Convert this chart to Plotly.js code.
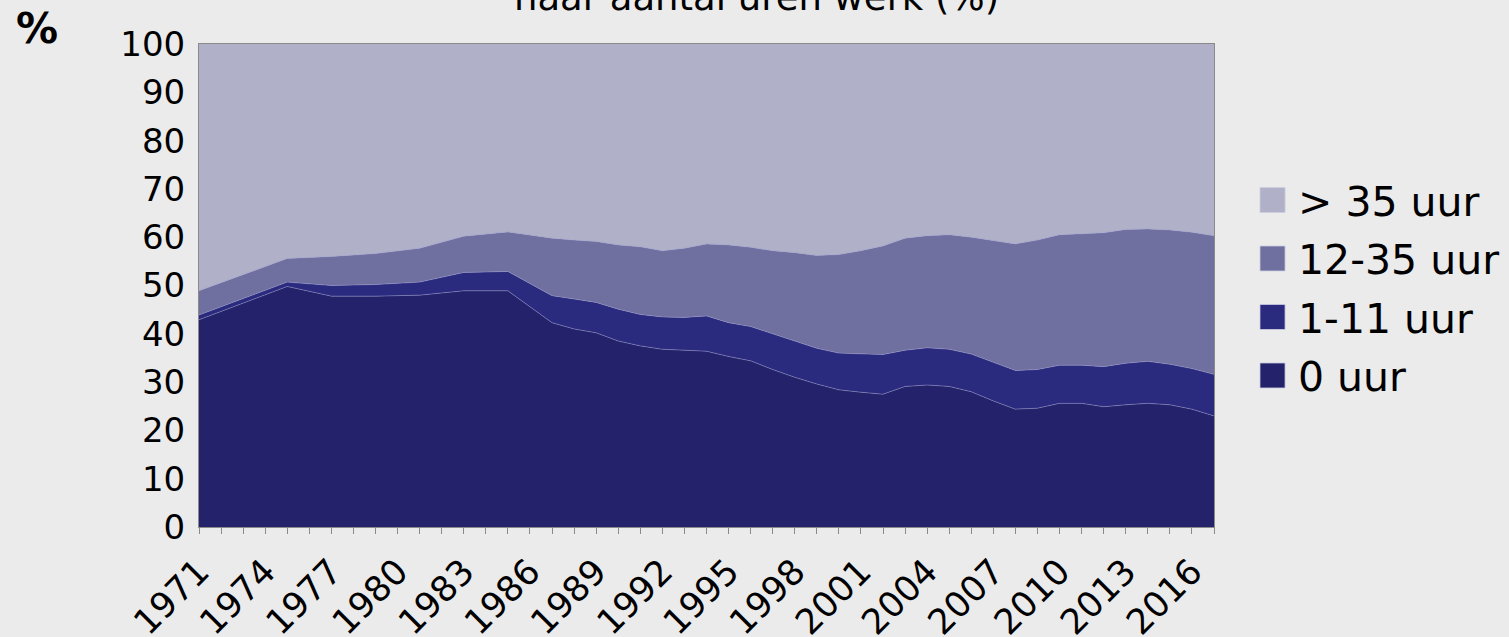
<!DOCTYPE html>
<html>
<head>
<meta charset="utf-8">
<script src="https://cdn.plot.ly/plotly-3.0.1.min.js"></script>
<style>
  html, body { margin: 0; padding: 0; background: #ebebeb; }
  #chart { width: 1509px; height: 637px; }
</style>
</head>
<body>
<div id="chart"></div>
<script>
// Years with observations
const years = [1971, 1975, 1977, 1979, 1981, 1983, 1985,
  1987, 1988, 1989, 1990, 1991, 1992, 1993, 1994, 1995, 1996, 1997, 1998, 1999, 2000,
  2001, 2002, 2003, 2004, 2005, 2006, 2007, 2008, 2009, 2010,
  2011, 2012, 2013, 2014, 2015, 2016, 2017];

// Shares (%) per category
const uur0 = [42.9, 49.8, 47.8, 47.8, 48.0, 48.9, 48.9,
  42.3, 41.0, 40.2, 38.5, 37.5, 36.8, 36.6, 36.4, 35.3, 34.4, 32.6, 31.0, 29.6, 28.4,
  27.9, 27.5, 29.1, 29.4, 29.1, 28.0, 26.1, 24.4, 24.6, 25.6,
  25.6, 24.9, 25.3, 25.6, 25.3, 24.4, 23.0];
const uur1_11 = [1.0, 0.9, 2.2, 2.4, 2.7, 3.8, 4.0,
  5.6, 6.2, 6.3, 6.6, 6.5, 6.7, 6.8, 7.3, 7.0, 7.1, 7.4, 7.4, 7.4, 7.6,
  8.0, 8.2, 7.5, 7.7, 7.7, 7.8, 8.0, 8.0, 8.0, 7.9,
  7.9, 8.3, 8.6, 8.7, 8.4, 8.4, 8.6];
const uur12_35 = [5.0, 4.9, 6.0, 6.4, 7.0, 7.5, 8.2,
  11.9, 12.2, 12.6, 13.3, 14.0, 13.7, 14.3, 14.9, 16.1, 16.4, 17.2, 18.4, 19.2, 20.4,
  21.3, 22.5, 23.2, 23.2, 23.7, 24.2, 25.2, 26.2, 26.8, 27.0,
  27.2, 27.7, 27.7, 27.4, 27.8, 28.2, 28.7];
const uur35plus = [51.1, 44.4, 44.0, 43.4, 42.3, 39.8, 38.9,
  40.2, 40.6, 40.9, 41.6, 42.0, 42.8, 42.3, 41.4, 41.6, 42.1, 42.8, 43.2, 43.8, 43.6,
  42.7, 41.8, 40.2, 39.7, 39.5, 40.0, 40.7, 41.4, 40.6, 39.5,
  39.3, 39.1, 38.4, 38.3, 38.5, 39.0, 39.7];

const seriesNames = ['0 uur', '1-11 uur', '12-35 uur', '> 35 uur'];
const seriesColors = ['#23226a', '#2a2a7e', '#6f70a0', '#b0b1c8'];
const seriesValues = [uur0, uur1_11, uur12_35, uur35plus];

// Axis tick labels
const xTickYears = [1971, 1974, 1977, 1980, 1983, 1986, 1989, 1992, 1995, 1998, 2001, 2004, 2007, 2010, 2013, 2016];
const xTickLabels = ['1971', '1974', '1977', '1980', '1983', '1986', '1989', '1992', '1995', '1998', '2001', '2004', '2007', '2010', '2013', '2016'];
const yTickVals = [0, 10, 20, 30, 40, 50, 60, 70, 80, 90, 100];

const FONT = 'DejaVu Sans, sans-serif';

const traces = seriesValues.map((vals, i) => ({
  type: 'scatter',
  mode: 'lines',
  x: years,
  y: vals,
  name: seriesNames[i],
  stackgroup: 'one',
  fillcolor: seriesColors[i],
  line: { color: i < 3 ? 'rgba(150,150,205,0.7)' : seriesColors[i], width: i < 3 ? 0.7 : 0 },
  showlegend: false,
  hoverinfo: 'x+y+name'
}));

// Legend drawn as swatches + text (top item = last series)
const shapes = [];
const annotations = [];
const legendTopY = 0.677;     // paper y of the first legend row centre
const legendStep = 0.1211;    // paper distance between rows
const swatchH = 0.0518;
for (let k = 0; k < seriesNames.length; k++) {
  const i = seriesNames.length - 1 - k;
  const yc = legendTopY - k * legendStep;
  shapes.push({
    type: 'rect', xref: 'paper', yref: 'paper',
    x0: 1.0453, x1: 1.0700, y0: yc - swatchH / 2, y1: yc + swatchH / 2,
    fillcolor: seriesColors[i], line: { color: 'rgba(205,205,225,0.8)', width: 1 }
  });
  annotations.push({
    text: seriesNames[i], xref: 'paper', yref: 'paper',
    x: 1.0805, xanchor: 'left', y: yc - 0.004, yanchor: 'middle',
    showarrow: false, font: { family: FONT, size: 41, color: '#000000' }
  });
}
annotations.push({
  text: '<b>%</b>', xref: 'paper', yref: 'paper',
  x: -0.182, xanchor: 'left', y: 1.033, yanchor: 'middle',
  showarrow: false, font: { family: FONT, size: 42, color: '#000000' }
});
annotations.push({
  text: 'naar aantal uren werk (%)', xref: 'paper', yref: 'paper',
  x: 0.549, xanchor: 'center', y: 1.048, yanchor: 'bottom',
  showarrow: false, font: { family: FONT, size: 37, color: '#000000' }
});

const layout = {
  width: 1509,
  height: 637,
  paper_bgcolor: '#ebebeb',
  plot_bgcolor: '#ebebeb',
  margin: { l: 199, r: 295, t: 44, b: 110 },
  font: { family: FONT, color: '#000000', size: 34 },
  showlegend: false,
  xaxis: {
    type: 'linear',
    range: [1971, 2017],
    tickmode: 'array',
    tickvals: xTickYears,
    ticktext: xTickLabels,
    tickangle: -45,
    ticks: 'outside',
    ticklen: 6,
    tickcolor: '#8a8a8a',
    tickwidth: 1,
    ticklabelstandoff: 3,
    minor: { tick0: 1971, dtick: 1, ticks: 'outside', ticklen: 6, tickcolor: '#8a8a8a', tickwidth: 1, showgrid: false },
    showline: true,
    linecolor: '#8a8a8a',
    linewidth: 1,
    mirror: true,
    showgrid: false,
    zeroline: false,
    tickfont: { family: FONT, size: 35, color: '#000000' },
    fixedrange: true
  },
  yaxis: {
    range: [0, 100],
    tickmode: 'array',
    tickvals: yTickVals,
    ticks: '',
    ticklabelstandoff: 6,
    showline: true,
    linecolor: '#8a8a8a',
    linewidth: 1,
    mirror: true,
    showgrid: false,
    zeroline: false,
    tickfont: { family: FONT, size: 34, color: '#000000' },
    fixedrange: true
  },
  shapes: shapes,
  annotations: annotations
};

Plotly.newPlot('chart', traces, layout, { displayModeBar: false, staticPlot: true });
</script>
</body>
</html>
